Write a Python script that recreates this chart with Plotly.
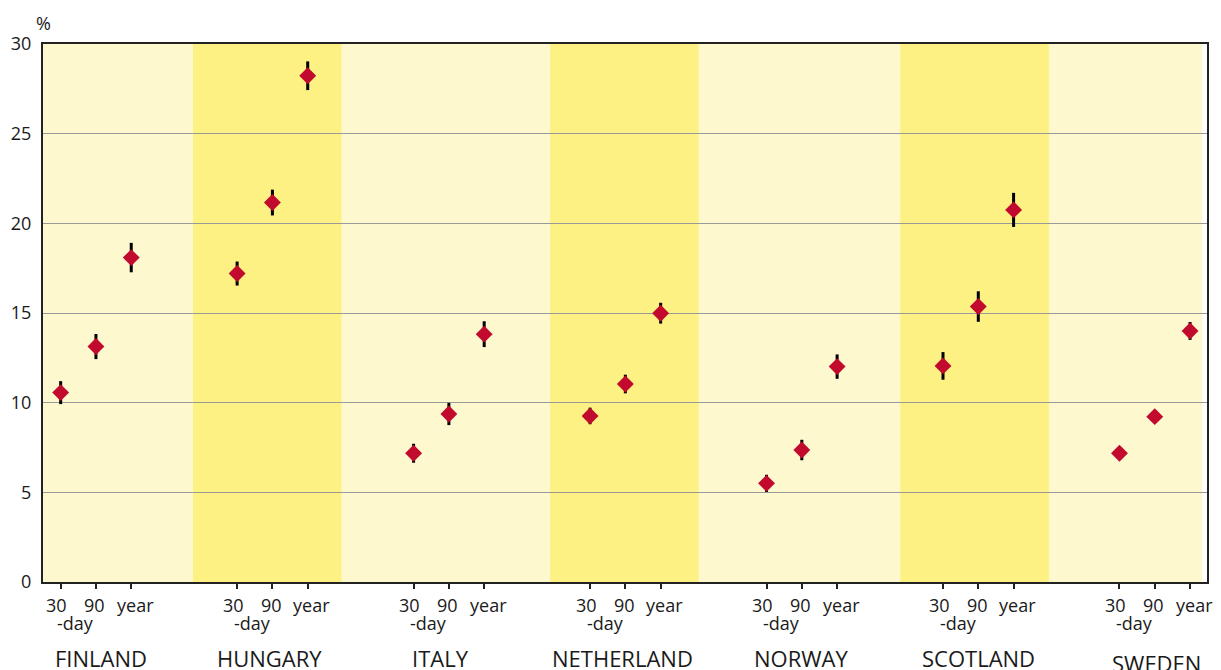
import plotly.graph_objects as go

# ---- data ----
countries = ["FINLAND", "HUNGARY", "ITALY", "NETHERLAND", "NORWAY", "SCOTLAND", "SWEDEN"]
period_labels = ["30", "90", "year"]
period_sublabels = ["-day", "", ""]
rate_30day = [10.56, 17.20, 7.18, 9.26, 5.50, 12.05, 7.18]
rate_90day = [13.13, 21.16, 9.37, 11.04, 7.36, 15.36, 9.22]
rate_1year = [18.09, 28.23, 13.82, 14.99, 12.01, 20.75, 14.00]
ci_30day = [0.64, 0.67, 0.53, 0.46, 0.48, 0.77, 0.35]
ci_90day = [0.70, 0.72, 0.62, 0.52, 0.57, 0.85, 0.35]
ci_1year = [0.82, 0.80, 0.72, 0.58, 0.68, 0.95, 0.50]
y_ticks = [0, 5, 10, 15, 20, 25, 30]

# ---- layout helpers (positions/styles) ----
GROUP_STEP = 5
highlight_bands = [(3.75, 7.96), (13.87, 18.08), (23.79, 28.0)]
country_xshift = [5, -3, -8, -3, -1, 0, 2]
country_yshift = [-60, -60, -60, -60, -60, -60, -65]
label_xshift = [-4, -1, 4]
FONT = "Open Sans"
TXT = "#1a1a1a"
PAGE_OFFSET = 8  # default body margin of the html page

series = [rate_30day, rate_90day, rate_1year]
errors = [ci_30day, ci_90day, ci_1year]

xs, ys, es = [], [], []
for gi in range(len(countries)):
    for pi in range(3):
        xs.append(gi * GROUP_STEP + pi)
        ys.append(series[pi][gi])
        es.append(errors[pi][gi])

fig = go.Figure()
fig.add_trace(go.Scatter(
    x=xs, y=ys, mode="markers",
    marker=dict(symbol="diamond", size=13, color="#C10A2E", line=dict(width=0)),
    error_y=dict(type="data", array=es, visible=True, color="#000000", thickness=3, width=0),
    showlegend=False, hoverinfo="x+y",
))

x_left, x_right = -0.5, 32.48
shapes = [dict(type="rect", xref="x", yref="paper", x0=x_left, x1=32.34, y0=0, y1=1,
               fillcolor="#FEF8CE", line=dict(width=0), layer="below")]
for a, b in highlight_bands:
    shapes.append(dict(type="rect", xref="x", yref="paper", x0=a, x1=b,
                       y0=0, y1=1, fillcolor="#FEF183", line=dict(width=0), layer="below"))

annotations = []
for gi, name in enumerate(countries):
    for pi in range(3):
        xv = gi * GROUP_STEP + pi
        annotations.append(dict(x=xv, y=0, xref="x", yref="paper", text=period_labels[pi],
                                showarrow=False, yanchor="top", xanchor="center",
                                xshift=label_xshift[pi], yshift=-10, borderpad=0,
                                font=dict(family=FONT, size=18, color=TXT)))
        if period_sublabels[pi]:
            annotations.append(dict(x=xv, y=0, xref="x", yref="paper", text=period_sublabels[pi],
                                    showarrow=False, yanchor="top", xanchor="center",
                                    xshift=15, yshift=-28, borderpad=0,
                                    font=dict(family=FONT, size=18, color=TXT)))
    annotations.append(dict(x=gi * GROUP_STEP + 1, y=0, xref="x", yref="paper", text=name,
                            showarrow=False, yanchor="top", xanchor="center",
                            xshift=country_xshift[gi], yshift=country_yshift[gi], borderpad=0,
                            font=dict(family=FONT, size=22, color=TXT)))
annotations.append(dict(x=0, y=1, xref="paper", yref="paper", text="%", showarrow=False,
                        xanchor="center", yanchor="bottom", yshift=7,
                        font=dict(family=FONT, size=18, color=TXT)))

tickvals = [gi * GROUP_STEP + pi for gi in range(len(countries)) for pi in range(3)]

fig.update_layout(
    width=1221 - PAGE_OFFSET, height=670 - PAGE_OFFSET,
    margin=dict(l=43 - PAGE_OFFSET, r=14, t=44 - PAGE_OFFSET, b=88, pad=0),
    paper_bgcolor="white", plot_bgcolor="white",
    shapes=shapes, annotations=annotations,
    xaxis=dict(range=[x_left, x_right], tickvals=tickvals, ticktext=[""] * len(tickvals),
               ticks="outside", ticklen=5, tickwidth=2, tickcolor="#222222",
               showgrid=False, zeroline=False, showline=True, linecolor="#222222",
               linewidth=2, mirror=True, automargin=False),
    yaxis=dict(range=[0, 30], tickvals=y_ticks, ticks="", showgrid=True,
               gridcolor="#999999", gridwidth=1, zeroline=False, showline=True,
               linecolor="#222222", linewidth=2, mirror=True, ticklabelstandoff=6,
               automargin=False,
               tickfont=dict(family=FONT, size=18, color=TXT)),
    font=dict(family=FONT, color=TXT),
)

fig.write_html("out.html")
